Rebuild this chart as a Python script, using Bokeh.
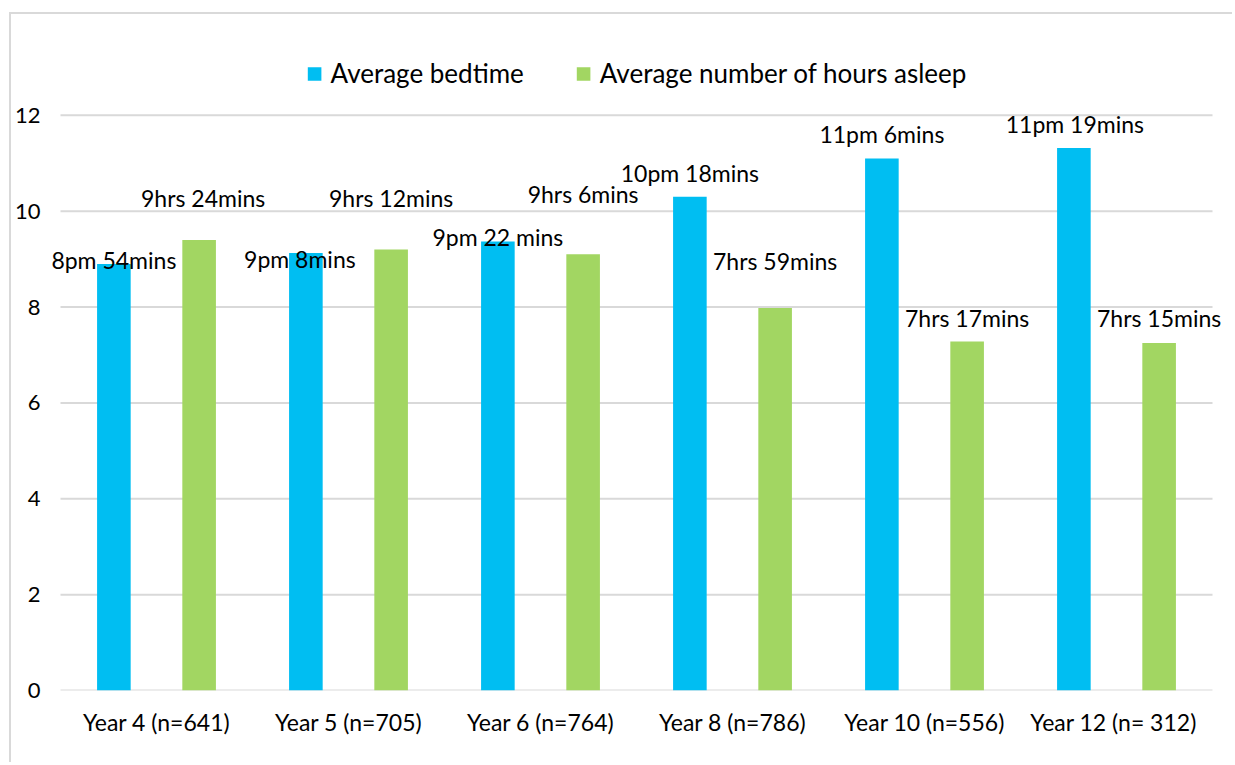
from bokeh.plotting import figure
from bokeh.models import (ColumnDataSource, FactorRange, FixedTicker, Legend,
                          LegendItem, LabelSet, Range1d)
from bokeh.core.properties import value
from bokeh.transform import dodge
from bokeh.embed import file_html
from bokeh.resources import INLINE

# ---- data ----
years = ["Year 4 (n=641)", "Year 5 (n=705)", "Year 6 (n=764)",
         "Year 8 (n=786)", "Year 10 (n=556)", "Year 12  (n= 312)"]
bedtime = [8.90, 9.13, 9.37, 10.30, 11.10, 11.32]
hours_asleep = [9.40, 9.20, 9.10, 7.98, 7.28, 7.25]
bedtime_labels = ["8pm 54mins", "9pm 8mins", "9pm 22 mins",
                  "10pm 18mins", "11pm 6mins", "11pm 19mins"]
asleep_labels = ["9hrs 24mins", "9hrs 12mins", "9hrs 6mins",
                 "7hrs 59mins", "7hrs 17mins", "7hrs 15mins"]
y_ticks = [0, 2, 4, 6, 8, 10, 12]

# ---- label placement (screen px, up positive) ----
bed_dx = [0, -6, 0, 0, 0, 1]
bed_dy = [4, -6, 4, 24, 24, 24]
asleep_dx = [4, 0, 0, 0, 0, 0]
asleep_dy = [42, 52, 60, 47, 24, 25]

FONT = "Lato"
BLUE = "#00BEF2"
GREEN = "#A2D662"
GRID = "#D9D9D9"

src = ColumnDataSource(dict(
    year=years, bed=bedtime, asleep=hours_asleep,
    bed_lab=bedtime_labels, asleep_lab=asleep_labels,
    bed_dx=bed_dx, bed_dy=bed_dy, asleep_dx=asleep_dx, asleep_dy=asleep_dy,
))
grid_src = ColumnDataSource(dict(
    first=[years[0]] * len(y_ticks), last=[years[-1]] * len(y_ticks), y=y_ticks,
))

xr = FactorRange(*years, range_padding=0.0625 / 3, range_padding_units="percent")
p = figure(width=1223, height=750, x_range=xr,
           y_range=Range1d(0, 14), output_backend="svg",
           toolbar_location=None, tools="")
p.min_border_left = 36
p.min_border_right = 10
p.min_border_top = 5
p.min_border_bottom = 74
p.outline_line_color = None
p.background_fill_color = "white"
p.border_fill_color = "white"
p.styles = {"border-left": "2px solid #D9D9D9",
            "border-top": "2px solid #D9D9D9",
            "margin-left": "9px",
            "margin-top": "12px"}

# horizontal gridlines spanning only the category area
p.segment(x0=dodge("first", -0.5, range=p.x_range), x1=dodge("last", 0.5, range=p.x_range),
          y0="y", y1="y", source=grid_src, line_color=GRID, line_width=2)

r1 = p.vbar(x=dodge("year", -0.222, range=p.x_range), top="bed", width=0.175,
            source=src, fill_color=BLUE, line_color=None)
r2 = p.vbar(x=dodge("year", 0.222, range=p.x_range), top="asleep", width=0.175,
            source=src, fill_color=GREEN, line_color=None)

lab1 = LabelSet(x=dodge("year", -0.222, range=p.x_range), y="bed", text="bed_lab",
                x_offset="bed_dx", y_offset="bed_dy", source=src,
                text_align="center", text_baseline="middle",
                text_font=value(FONT), text_font_size="23px", text_color="black")
lab2 = LabelSet(x=dodge("year", 0.222, range=p.x_range), y="asleep", text="asleep_lab",
                x_offset="asleep_dx", y_offset="asleep_dy", source=src,
                text_align="center", text_baseline="middle",
                text_font=value(FONT), text_font_size="23px", text_color="black")
p.add_layout(lab1)
p.add_layout(lab2)

# axes
p.yaxis.ticker = FixedTicker(ticks=y_ticks)
p.yaxis.axis_line_color = None
p.yaxis.major_tick_line_color = None
p.yaxis.minor_tick_line_color = None
p.yaxis.major_tick_out = 0
p.yaxis.major_tick_in = 0
p.yaxis.minor_tick_out = 0
p.yaxis.major_label_standoff = 8
p.yaxis.major_label_text_font = FONT
p.yaxis.major_label_text_font_size = "22px"
p.yaxis.major_label_text_color = "black"

p.xaxis.axis_line_color = None
p.xaxis.major_tick_line_color = None
p.xaxis.minor_tick_line_color = None
p.xaxis.major_tick_out = 0
p.xaxis.major_tick_in = 0
p.xaxis.major_label_standoff = 17
p.xaxis.major_label_text_font = FONT
p.xaxis.major_label_text_font_size = "23px"
p.xaxis.major_label_text_color = "black"

p.xgrid.grid_line_color = None
p.ygrid.grid_line_color = None

legend = Legend(items=[LegendItem(label="Average bedtime", renderers=[r1]),
                       LegendItem(label="Average number of hours asleep", renderers=[r2])],
                location="top_center", orientation="horizontal")
legend.border_line_color = None
legend.background_fill_alpha = 0
legend.label_text_font = FONT
legend.label_text_font_size = "26px"
legend.label_text_color = "black"
legend.glyph_width = 17
legend.glyph_height = 17
legend.label_height = 26
legend.label_standoff = 8
legend.spacing = 51
legend.padding = 0
legend.margin = 38
p.add_layout(legend)

open("out.html", "w").write(file_html(p, INLINE))
